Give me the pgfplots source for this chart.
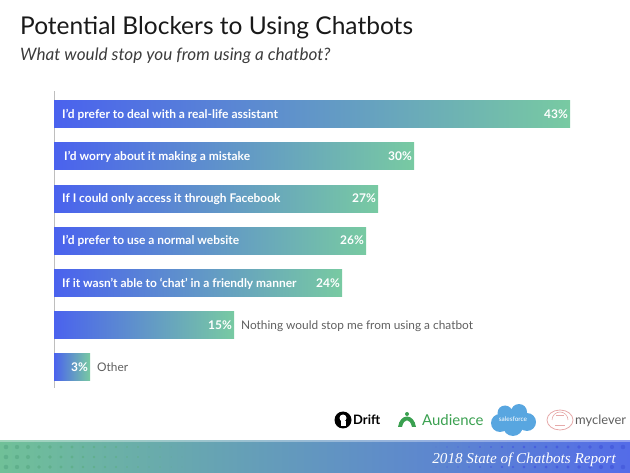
\documentclass[border=0pt]{standalone}
\usepackage{fontspec}
\setmainfont{Lato}
\newfontfamily\reportfont{Liberation Serif}
\usepackage{pgfplots}
\pgfplotsset{compat=1.18}
\definecolor{barblue}{RGB}{74,98,238}
\definecolor{bargreen}{RGB}{120,202,162}
\definecolor{titlecol}{RGB}{25,25,25}
\definecolor{subcol}{RGB}{60,60,60}
\definecolor{labgray}{RGB}{95,95,95}
\definecolor{axisgray}{RGB}{190,190,190}
\definecolor{bandgreen}{RGB}{112,192,152}
\definecolor{bandblue}{RGB}{84,108,232}
\definecolor{dotgreen}{RGB}{96,176,140}
\definecolor{dotblue}{RGB}{72,94,222}
\definecolor{audgreen}{RGB}{58,160,80}
\definecolor{sfblue}{RGB}{88,166,224}
\definecolor{brainpink}{RGB}{230,170,170}
\begin{document}
\begin{tikzpicture}
\path[use as bounding box] (0,0) rectangle (630bp,473bp);
% titles
\node[anchor=base west, inner sep=0, text=titlecol, font=\fontsize{24.6}{30}\selectfont] at (20bp,438bp) {Potential Blockers to Using Chatbots};
\node[anchor=base west, inner sep=0, text=subcol, font=\fontsize{17.2}{20}\selectfont\itshape] at (20bp,412bp) {What would stop you from using a chatbot?};

\begin{axis}[
  at={(54bp,85bp)}, anchor=south west,
  scale only axis, width=516bp, height=296.8bp,
  xmin=0, xmax=43, ymin=-0.55, ymax=6.5,
  y dir=reverse,
  xbar, bar width=27bp, bar shift=0pt,
  axis x line=none, axis y line*=left,
  y axis line style={draw=axisgray, line width=0.9bp},
  ytick=\empty, xtick=\empty,
  clip=false,
  point meta=x,
  /pgf/number format/assume math mode=true,
  nodes near coords={\pgfmathprintnumber{\pgfplotspointmeta}\%},
  every node near coord/.append style={anchor=base east, xshift=-2bp, yshift=-4.3bp, inner sep=0, text=white, font=\fontsize{12}{14}\selectfont\bfseries},
  every axis plot/.append style={draw=none, left color=barblue, right color=bargreen},
]
\addplot coordinates {(43,0)};
\addplot coordinates {(30,1)};
\addplot coordinates {(27,2)};
\addplot coordinates {(26,3)};
\addplot coordinates {(24,4)};
\addplot coordinates {(15,5)};
\addplot coordinates {(3,6)};
\begin{scope}[every node/.style={anchor=base west, inner sep=0, yshift=-4.3bp, font=\fontsize{12}{14}\selectfont\bfseries, text=white}]
\node[xshift=8bp] at (axis cs:0,0) {I’d prefer to deal with a real-life assistant};
\node[xshift=10bp] at (axis cs:0,1) {I’d worry about it making a mistake};
\node[xshift=8bp] at (axis cs:0,2) {If I could only access it through Facebook};
\node[xshift=8bp] at (axis cs:0,3) {I’d prefer to use a normal website};
\node[xshift=8bp] at (axis cs:0,4) {If it wasn’t able to ‘chat’ in a friendly manner};
\end{scope}
\begin{scope}[every node/.style={anchor=base west, inner sep=0, yshift=-4.3bp, font=\fontsize{11.9}{14}\selectfont, text=labgray}]
\node[xshift=7bp] at (axis cs:15,5) {Nothing would stop me from using a chatbot};
\node[xshift=7bp] at (axis cs:3,6) {Other};
\end{scope}
\end{axis}

% footer band
\shade[left color=bandgreen, right color=bandblue] (0,0) rectangle (630bp,32bp);
\fill[white, opacity=0.35] (0,31bp) rectangle (630bp,32.5bp);
\foreach \i in {0,...,16}{
  \pgfmathsetmacro\r{2.3-0.12*\i}
  \foreach \yy in {6,16,26}{
    \fill[dotgreen] ({(6+11*\i)*1bp},{\yy*1bp}) circle[radius=\r bp];
  }
}
\foreach \i in {0,...,17}{
  \pgfmathsetmacro\r{0.4+0.11*\i}
  \foreach \yy in {6,26}{
    \fill[dotblue] ({(436+11*\i)*1bp},{\yy*1bp}) circle[radius=\r bp];
  }
}
\node[anchor=base east, inner sep=0, text=white, font=\reportfont\fontsize{15.2}{18}\selectfont\itshape] at (616bp,10bp) {2018 State of Chatbots Report};

% logos
\fill[black] (343bp,53bp) circle[radius=8.5bp];
\fill[white] (343bp,55bp) circle[radius=3.5bp];
\fill[white] (340.5bp,47bp) rectangle (345.5bp,52bp);
\node[anchor=base west, inner sep=0, font=\fontsize{13}{15}\selectfont\bfseries] at (353bp,48bp) {Drift};
\fill[audgreen] (398bp,46bp) .. controls (400bp,60bp) and (414bp,60bp) .. (416bp,46bp) -- (412bp,46bp) .. controls (410bp,55bp) and (404bp,55bp) .. (402bp,46bp) -- cycle;
\fill[audgreen] (407bp,59bp) circle[radius=2bp];
\node[anchor=base west, inner sep=0, text=audgreen, font=\fontsize{15}{17}\selectfont] at (422bp,47bp) {Audience};
\fill[sfblue] (500bp,50bp) circle[radius=9bp] (513bp,47bp) circle[radius=10bp] (527bp,51bp) circle[radius=9bp] (505bp,60bp) circle[radius=7.5bp] (519bp,61bp) circle[radius=8bp];
\node[text=white, inner sep=0, font=\fontsize{6.5}{8}\selectfont] at (513bp,54bp) {salesforce};
\draw[brainpink, line width=0.8bp] (560bp,53bp) ellipse[x radius=13bp, y radius=10bp];
\draw[brainpink, line width=0.6bp] (552bp,53bp) arc[start angle=180, end angle=0, radius=8bp];
\draw[brainpink, line width=0.6bp] (555bp,48bp) -- (565bp,48bp) (556bp,58bp) -- (564bp,58bp);
\node[anchor=base west, inner sep=0, text=labgray, font=\fontsize{13}{15}\selectfont] at (575bp,48bp) {myclever};
\end{tikzpicture}
\end{document}
